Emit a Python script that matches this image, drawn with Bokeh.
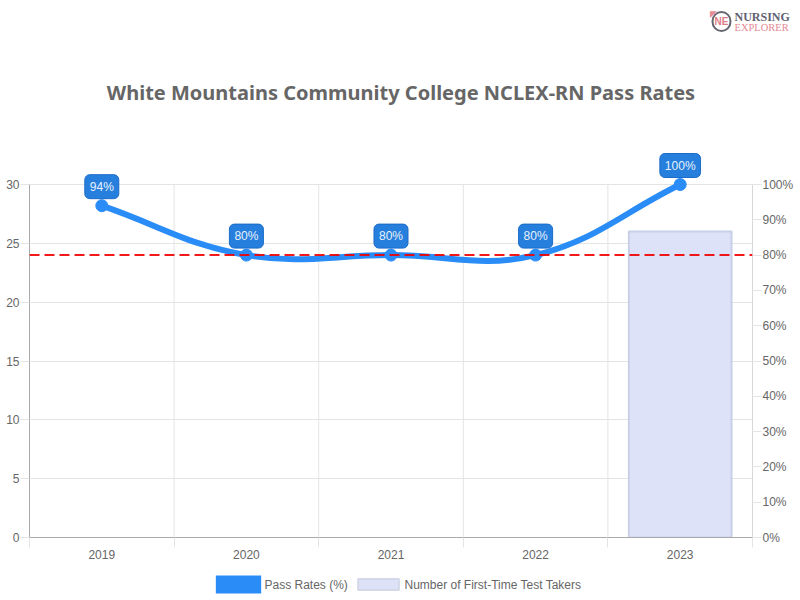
import math
from bokeh.embed import file_html
from bokeh.resources import INLINE
from bokeh.plotting import figure
from bokeh.models import (Range1d, LinearAxis, FixedTicker, Label, Span, ColumnDataSource)

years = [2019, 2020, 2021, 2022, 2023]
pass_rates = [94, 80, 80, 80, 100]
test_takers = [None, None, None, None, 26]
national_avg = 80
left_ticks = [0, 5, 10, 15, 20, 25, 30]
right_ticks = [0, 10, 20, 30, 40, 50, 60, 70, 80, 90, 100]
title_text = "White Mountains Community College NCLEX-RN Pass Rates"
legend_names = ["Pass Rates (%)", "Number of First-Time Test Takers"]

FW, FH, HEAD = 723, 353, 7   # HEAD: room above the top tick, so the top marker is not clipped
p = figure(width=800, height=600, frame_width=FW, frame_height=FH + HEAD, output_backend="svg", toolbar_location=None,
           x_range=Range1d(years[0] - .5, years[-1] + .5), y_range=Range1d(0, left_ticks[-1] * (FH + HEAD) / FH),
           min_border_left=29, min_border_right=48, min_border_top=184 - HEAD, min_border_bottom=63,
           outline_line_color=None, background_fill_color="white", border_fill_color="white")
p.extra_y_ranges = {"pct": Range1d(0, right_ticks[-1] * (FH + HEAD) / FH)}

GRID = "#e4e4e4"
TXT = "#666666"
edges = [y - .5 for y in years] + [years[-1] + .5]

def style(ax, linecolor):
    ax.axis_line_color = linecolor
    ax.major_tick_line_color = GRID
    ax.major_tick_in = 0
    ax.major_tick_out = 9
    ax.minor_tick_line_color = None
    ax.major_label_text_font = "Liberation Sans"
    ax.major_label_text_font_size = "12px"
    ax.major_label_text_color = TXT
    ax.major_label_standoff = 1

p.xaxis.ticker = FixedTicker(ticks=years, minor_ticks=edges)
p.xaxis[0].major_label_overrides = {y: str(y) for y in years}
style(p.xaxis[0], "#aaaaaa")
p.xaxis[0].major_tick_line_color = None
p.xaxis[0].major_tick_out = 0
p.xaxis[0].minor_tick_line_color = GRID
p.xaxis[0].minor_tick_out = 10
p.xaxis[0].minor_tick_in = 0
p.xaxis[0].major_label_standoff = 2

p.yaxis.ticker = FixedTicker(ticks=left_ticks)
p.yaxis[0].bounds = (left_ticks[0], left_ticks[-1])
style(p.yaxis[0], "#aaaaaa")
right = LinearAxis(y_range_name="pct", ticker=FixedTicker(ticks=right_ticks),
                   major_label_overrides={v: f"{v}%" for v in right_ticks},
                   bounds=(right_ticks[0], right_ticks[-1]))
style(right, "#d8d8d8")
p.add_layout(right, "right")

p.xgrid.visible = False
p.segment(x0=edges, y0=[left_ticks[0]] * len(edges), x1=edges, y1=[left_ticks[-1]] * len(edges),
          line_color=GRID, line_width=1, level="underlay")
p.ygrid[0].ticker = FixedTicker(ticks=left_ticks)
p.ygrid[0].grid_line_color = GRID

BAR_FILL, BAR_LINE = "#dde2f8", "#c8d0e8"
bar_x = [y for y, v in zip(years, test_takers) if v is not None]
bar_v = [v for v in test_takers if v is not None]
bars = p.vbar(x=bar_x, top=bar_v, width=0.71, fill_color=BAR_FILL, line_color=BAR_LINE, line_width=2)

p.add_layout(Span(location=national_avg, dimension="width", y_range_name="pct", line_color="#f00000",
                  line_alpha=0.9, line_width=2, line_dash=[10, 5]))

sx = FW / len(years)
sy = FH / 100
def spline(xs, ys):
    n = len(xs)
    prev_c, next_c = [], []
    for i in range(n):
        a, b, c = max(i - 1, 0), i, min(i + 1, n - 1)
        d01 = math.hypot((xs[b] - xs[a]) * sx, (ys[b] - ys[a]) * sy)
        d12 = math.hypot((xs[c] - xs[b]) * sx, (ys[c] - ys[b]) * sy)
        tot = d01 + d12
        fa, fb = 0.4 * d01 / tot, 0.4 * d12 / tot
        prev_c.append((xs[b] - fa * (xs[c] - xs[a]), ys[b] - fa * (ys[c] - ys[a])))
        next_c.append((xs[b] + fb * (xs[c] - xs[a]), ys[b] + fb * (ys[c] - ys[a])))
    return prev_c, next_c

pc, nc = spline(years, pass_rates)
BLUE = "#2a8cf7"
src = ColumnDataSource(dict(
    x0=years[:-1], y0=pass_rates[:-1], x1=years[1:], y1=pass_rates[1:],
    cx0=[c[0] for c in nc[:-1]], cy0=[c[1] for c in nc[:-1]],
    cx1=[c[0] for c in pc[1:]], cy1=[c[1] for c in pc[1:]]))
p.bezier(x0="x0", y0="y0", x1="x1", y1="y1", cx0="cx0", cy0="cy0", cx1="cx1", cy1="cy1",
         source=src, line_color=BLUE, line_width=6, y_range_name="pct")
p.scatter(years, pass_rates, size=12, color=BLUE, y_range_name="pct")

for y, v in zip(years, pass_rates):
    p.add_layout(Label(x=y, y=v, y_range_name="pct", text=f"{v}%", y_offset=19, text_align="center",
                       text_baseline="middle", text_color="#e8f2fc", text_font="Liberation Sans",
                       text_font_size="12px", background_fill_color="#267fdd",
                       border_line_color="#1c6cc8", border_line_width=1, border_radius=5, padding=5), "above")

p.add_layout(Label(x=400.5, y=92, x_units="canvas", y_units="canvas", text=title_text, text_align="center",
                   text_baseline="middle", text_font="Noto Sans", text_font_size="20px",
                   text_font_style="bold", text_color=TXT), "above")

# logo
p.add_layout(Label(x=721, y=21, x_units="canvas", y_units="canvas", text="NE", text_align="center",
                   text_baseline="middle", text_font="Liberation Sans", text_font_style="bold",
                   text_font_size="10px", text_color="#e07c88", border_line_color="#666670",
                   border_line_width=2, border_radius=10, padding=(2, 4)), "below")
p.add_layout(Label(x=713, y=13, x_units="canvas", y_units="canvas", text="\u25e4", text_align="center",
                   text_baseline="middle", text_font="DejaVu Sans", text_font_size="9px",
                   text_color="#e88a94"), "below")
p.add_layout(Label(x=734, y=16, x_units="canvas", y_units="canvas", text="NURSING", text_baseline="middle",
                   text_font="Liberation Serif", text_font_style="bold", text_font_size="12px", text_color="#5f6170"), "below")
p.add_layout(Label(x=734, y=27, x_units="canvas", y_units="canvas", text="EXPLORER", text_baseline="middle",
                   text_font="Liberation Serif", text_font_size="10.5px", text_color="#e58a94"), "below")

# legend: swatches and texts at fixed canvas positions
p.add_layout(Label(x=238, y=584, x_units="canvas", y_units="canvas", text=" ", text_align="center",
                   text_baseline="middle", text_font="Liberation Sans", text_font_size="12px",
                   background_fill_color=BLUE, padding=(21, 2)), "below")
p.add_layout(Label(x=378, y=584, x_units="canvas", y_units="canvas", text=" ", text_align="center",
                   text_baseline="middle", text_font="Liberation Sans", text_font_size="10px",
                   background_fill_color=BAR_FILL, border_line_color="#d5d8e8", border_line_width=2,
                   padding=(19, 0)), "below")
for name, lx in zip(legend_names, [264, 404]):
    p.add_layout(Label(x=lx, y=584, x_units="canvas", y_units="canvas", text=name, text_baseline="middle",
                       text_font="Liberation Sans", text_font_size="12px", text_color=TXT), "below")

open("out.html", "w").write(file_html(p, INLINE))
